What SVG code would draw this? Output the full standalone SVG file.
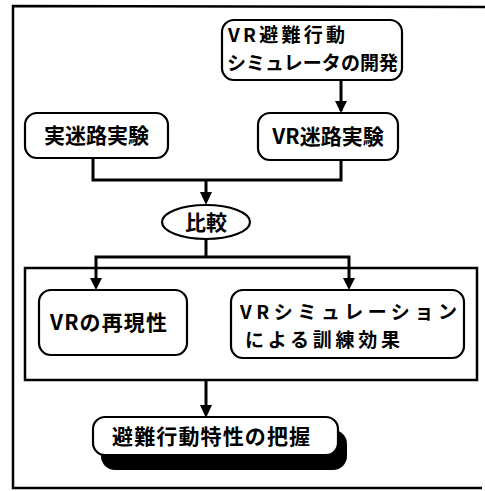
<svg xmlns="http://www.w3.org/2000/svg" width="485" height="491" viewBox="0 0 485 491">
<defs>
<style>
.box{fill:#fff;stroke:#000;stroke-width:2.2}
.t{font-family:"Noto Sans CJK JP","Noto Sans CJK SC",sans-serif;font-weight:bold;font-size:21px;fill:#000}
.t2{font-size:19px}
.c{fill:none;stroke:#000;stroke-width:3}
.f{fill:none;stroke:#000;stroke-width:2.5}
</style>
</defs>
<rect width="485" height="491" fill="#fff"/>
<path class="f" d="M485,7 L13,6 L13,488 L482,488"/>
<g id="connectors">
<path class="c" d="M341,80 V111"/>
<path d="M335,101 L347,101 L341,113 Z"/>
<path class="c" d="M93,158 V180 H341 V160"/>
<path class="c" d="M206,180 V197"/>
<path d="M200,192 L212,192 L206,205 Z"/>
<path class="c" d="M206,239 V257"/>
<path class="c" d="M96,285 V257 H349 V285"/>
<path d="M90,278 L102,278 L96,290 Z"/>
<path d="M343,278 L355,278 L349,290 Z"/>
<path class="c" d="M206,380 V410"/>
<path d="M200,405 L212,405 L206,418 Z"/>
</g>
<rect id="frame" class="f" x="25" y="268" width="452" height="112"/>
<g id="n1"><rect class="box" x="222" y="20" width="180" height="60" rx="12"/>
<text class="t t2" x="228" y="42" textLength="117" lengthAdjust="spacing">VR避難行動</text>
<text class="t t2" x="227" y="70" textLength="171" lengthAdjust="spacing">シミュレータの開発</text></g>
<g id="n2"><rect class="box" x="25" y="113" width="143" height="45" rx="12"/>
<text class="t" x="96.5" y="143" text-anchor="middle" font-size="22">実迷路実験</text></g>
<g id="n3"><rect class="box" x="258" y="113" width="140" height="47" rx="12"/>
<text class="t" x="328" y="144" text-anchor="middle" font-size="22">VR迷路実験</text></g>
<g id="n4"><ellipse class="box" cx="206" cy="222" rx="44" ry="17"/>
<text class="t" x="206" y="230" text-anchor="middle" font-size="22">比較</text></g>
<g id="n5"><rect class="box" x="39" y="290" width="148" height="65" rx="12"/>
<text class="t" x="50" y="330" textLength="117" lengthAdjust="spacing">VRの再現性</text></g>
<g id="n6"><rect class="box" x="231" y="290" width="233" height="68" rx="12"/>
<text class="t t2" x="240" y="319" textLength="217" lengthAdjust="spacing">VRシミュレーション</text>
<text class="t t2" x="245" y="347" textLength="155" lengthAdjust="spacing">による訓練効果</text></g>
<g id="n7"><rect x="101" y="430" width="246" height="40" rx="14" fill="#000"/>
<rect class="box" x="93" y="417" width="245" height="38" rx="12"/>
<text class="t" x="112" y="444" textLength="198" lengthAdjust="spacing">避難行動特性の把握</text></g>
</svg>
